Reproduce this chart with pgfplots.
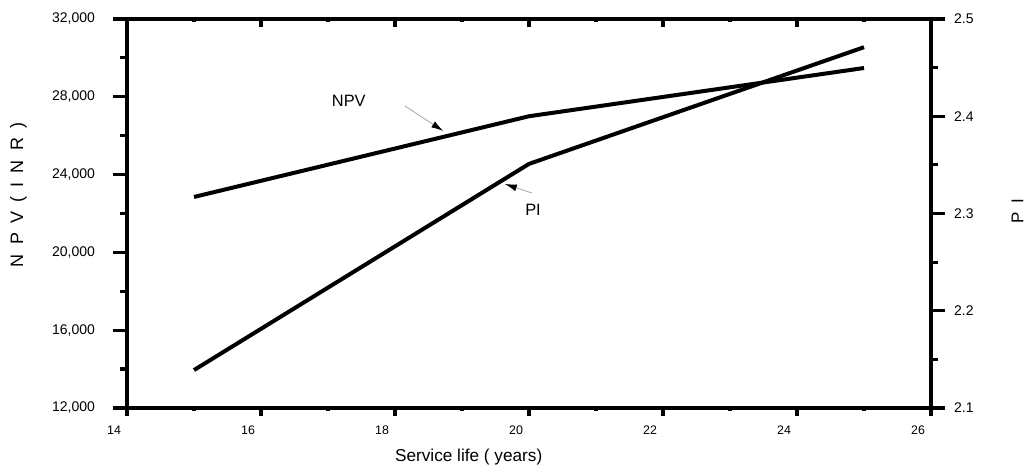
\documentclass[border=0pt]{standalone}
\usepackage{pgfplots}
\pgfplotsset{compat=1.18}
\usepackage{fontspec}
\setmainfont{Liberation Sans}
\usetikzlibrary{arrows.meta}
\newcommand{\g}{\hspace{4.6pt}}
\begin{document}
\begin{tikzpicture}
\pgfplotsset{
  common/.style={
    scale only axis, width=402pt, height=194.5pt,
    xmin=14, xmax=26,
    axis line style={line width=2pt},
    /pgf/number format/assume math mode=true,
    every tick/.style={black, line width=1.6pt},
    every minor tick/.style={black, line width=1.6pt},
  }
}
% left axis: NPV
\begin{axis}[common,
  axis x line=none, axis y line*=left,
  ymin=12000, ymax=32000,
  ytick={12000,16000,...,32000},
  minor ytick={14000,18000,...,30000},
  scaled y ticks=false,
  yticklabel style={/pgf/number format/.cd,1000 sep={,}, fixed, /tikz/.cd, font=\fontsize{7}{8}\selectfont, xshift=-5.5pt},
  tick align=outside,
  major tick length=7pt, minor tick length=3.5pt,
  clip=false,
]
\coordinate (bl) at (rel axis cs:0,0);
\coordinate (tr) at (rel axis cs:1,1);
\addplot[black, line width=2pt] coordinates {(15,22850) (20,27000) (25,29480)};
\node[font=\fontsize{8.2}{9}\selectfont] at (axis cs:17.31,27784) {NPV};
\draw[gray!70, line width=0.4pt, -{Latex[length=6pt,width=3.5pt,black]}] (axis cs:18.15,27527) -- (axis cs:18.72,26242);
\node[font=\fontsize{8.2}{9}\selectfont] at (axis cs:20.06,22180) {PI};
\draw[gray!70, line width=0.4pt, -{Latex[length=6pt,width=3.5pt,black]}] (axis cs:20.04,23055) -- (axis cs:19.64,23517);
\node[font=\fontsize{9}{10}\selectfont, rotate=90] at (rel axis cs:-0.135,0.548) {N\g P\g V\g (\g I\g N\g R\g )};
\node[font=\fontsize{8.5}{10}\selectfont, rotate=90] at (rel axis cs:1.1076,0.506) {P\g I};
\node[font=\fontsize{8.6}{10}\selectfont] at (rel axis cs:0.425,-0.126) {Service life ( years)};
\end{axis}
% right axis: PI
\begin{axis}[common,
  axis x line=none, axis y line*=right,
  ymin=2.1, ymax=2.5,
  ytick={2.1,2.2,...,2.5},
  minor ytick={2.15,2.25,2.35,2.45},
  yticklabel style={/pgf/number format/.cd, fixed, fixed zerofill, precision=1, /tikz/.cd, font=\fontsize{7}{8}\selectfont, xshift=1pt},
  tick align=outside,
  major tick length=7pt, minor tick length=3.5pt,
]
\addplot[black, line width=2pt] coordinates {(15,2.139) (20,2.351) (25,2.471)};
\end{axis}
% bottom x axis
\begin{axis}[common,
  axis x line*=bottom, axis y line=none,
  ymin=0, ymax=1,
  xtick={14,16,...,26},
  minor xtick={15,17,...,25},
  xticklabel style={font=\fontsize{6.2}{7}\selectfont, anchor=north east, xshift=0.5pt, yshift=-1.5pt},
  tick align=outside,
  major tick length=4pt, minor tick length=1.5pt,
]
\end{axis}
% top x axis
\begin{axis}[common,
  axis x line*=top, axis y line=none,
  ymin=0, ymax=1,
  xtick={14,16,...,26},
  minor xtick={15,17,...,25},
  xticklabels={},
  tick align=inside,
  major tick length=4pt, minor tick length=1.5pt,
]
\end{axis}
\pgfresetboundingbox
\path[use as bounding box] ([xshift=-63.5pt,yshift=-30pt]bl) rectangle ([xshift=47pt,yshift=9.5pt]tr);
\end{tikzpicture}
\end{document}
